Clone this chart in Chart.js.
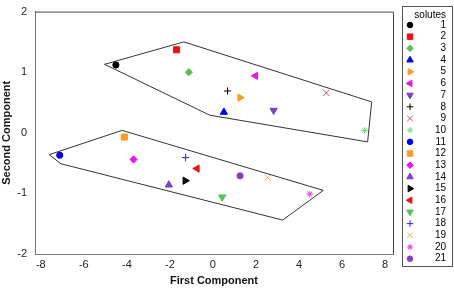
<!DOCTYPE html>
<html>
<head>
<meta charset="utf-8">
<script src="https://cdn.jsdelivr.net/npm/chart.js@4/dist/chart.umd.min.js"></script>
<style>
  html, body { margin: 0; padding: 0; background: #fff; }
  #wrap { width: 454px; height: 288px; }
</style>
</head>
<body>
<div id="wrap"><canvas id="pcaChart" width="454" height="288"></canvas></div>
<script>
// solute scores on the first two components
const solutes = ["1","2","3","4","5","6","7","8","9","10","11","12","13","14","15","16","17","18","19","20","21"];
const firstComp = [-4.51, -1.69, -1.12, 0.51, 1.26, 1.98, 2.82, 0.68, 5.27, 7.05, -7.12, -4.12, -3.69, -2.05, -1.29, -0.74, 0.43, -1.27, 2.54, 4.50, 1.26];
const secondComp = [1.12, 1.37, 1.00, 0.34, 0.58, 0.94, 0.37, 0.69, 0.66, 0.04, -0.37, -0.07, -0.44, -0.86, -0.79, -0.59, -1.06, -0.41, -0.74, -1.01, -0.71];
const markerColors = ["#000000","#ee1111","#55c055","#0000ee","#ff9922","#ee11ee","#8040c0","#000000","#ee4444","#77dd77",
                      "#0000ee","#ff9922","#ee11ee","#8040c0","#000000","#ee1111","#55c055","#2222ee","#ffaa55","#ee33ee","#8040c0"];
const markerStyles = ["circle","rect","rectRot","triangle","triangle","triangle","triangle","cross","crossRot","star",
                      "circle","rect","rectRot","triangle","triangle","triangle","triangle","cross","crossRot","star","circle"];
const markerRotation = [0,0,0,0,90,-90,180,0,0,0, 0,0,0,0,90,-90,180,0,0,0,0];

// group outlines
const upperHullX = [-5.04, -1.35, 7.38, 7.19, -0.14, -5.04];
const upperHullY = [1.13, 1.50, 0.51, -0.15, 0.29, 1.13];
const lowerHullX = [-7.61, -4.22, 5.13, 3.24, -7.07, -7.61];
const lowerHullY = [-0.36, 0.04, -0.95, -1.44, -0.51, -0.36];

const xTicks = [-8, -6, -4, -2, 0, 2, 4, 6, 8];
const yTicks = [-2, -1, 0, 1, 2];

const FONT = "'Liberation Sans', Arial, sans-serif";

function markerRadius(style) {
    if (style === "rect") return 4.3;
    if (style === "triangle") return 4.2;
    if (style === "rectRot") return 3.6;
    if (style === "circle") return 3.1;
    if (style === "crossRot") return 4.4;
    if (style === "star") return 3.3;
    return 3.6;
}

const solutesData = solutes.map((s, i) => ({
    label: s,
    data: [{ x: firstComp[i], y: secondComp[i] }],
    pointStyle: markerStyles[i],
    rotation: markerRotation[i],
    pointRadius: markerRadius(markerStyles[i]),
    pointBackgroundColor: markerColors[i],
    pointBorderColor: markerColors[i],
    pointBorderWidth: 1,
    showLine: false,
}));

const hullData = [[upperHullX, upperHullY], [lowerHullX, lowerHullY]].map(([hx, hy], k) => ({
    label: "hull" + k,
    data: hx.map((v, i) => ({ x: v, y: hy[i] })),
    showLine: true,
    borderColor: "#333333",
    borderWidth: 1,
    pointRadius: 0,
    fill: false,
    tension: 0,
}));

const framePlugin = {
    id: "frame",
    afterDatasetsDraw(chart) {
        const { ctx, chartArea: a } = chart;
        ctx.save();
        ctx.strokeStyle = "#444";
        ctx.lineWidth = 1;
        ctx.beginPath();
        ctx.moveTo(a.left, a.top + 0.5);
        ctx.lineTo(a.right + 0.5, a.top + 0.5);
        ctx.lineTo(a.right + 0.5, a.bottom);
        ctx.stroke();
        ctx.restore();
    },
};

const legendPlugin = {
    id: "soluteLegend",
    afterDraw(chart) {
        const ctx = chart.ctx;
        const left = 402, top = 6, right = 453, bottom = 267;
        ctx.save();
        ctx.fillStyle = "#fff";
        ctx.fillRect(left, top, right - left, bottom - top);
        ctx.strokeStyle = "#555";
        ctx.lineWidth = 1;
        ctx.strokeRect(left + 0.5, top + 0.5, right - left - 1, bottom - top - 1);
        ctx.fillStyle = "#000";
        ctx.font = "10px " + FONT;
        ctx.textAlign = "right";
        ctx.textBaseline = "middle";
        ctx.fillText("solutes", 446, 15);
        const rowH = (258.7 - 25) / 20;
        solutes.forEach((s, i) => {
            const y = 25 + i * rowH;
            ctx.fillStyle = markerColors[i];
            ctx.strokeStyle = markerColors[i];
            ctx.lineWidth = 1;
            Chart.helpers.drawPoint(ctx, {
                pointStyle: markerStyles[i],
                rotation: markerRotation[i],
                radius: markerRadius(markerStyles[i]) * 0.9,
                borderWidth: 1,
            }, 410, y);
            ctx.fillStyle = "#000";
            ctx.fillText(s, 446, y);
        });
        ctx.restore();
    },
};

new Chart(document.getElementById("pcaChart"), {
    type: "scatter",
    data: { datasets: [...hullData, ...solutesData] },
    options: {
        responsive: false,
        animation: false,
        layout: { padding: { top: 6, right: 61, left: 0, bottom: 0 } },
        plugins: { legend: { display: false }, tooltip: { enabled: false } },
        scales: {
            x: {
                type: "linear",
                min: -8.27,
                max: 8.37,
                afterBuildTicks: s => { s.ticks = xTicks.map(v => ({ value: v })); },
                afterFit: s => { s.height = 34; },
                grid: { display: false, drawTicks: true, tickLength: 3, tickColor: "#777" },
                border: { display: true, color: "#777" },
                ticks: { color: "#222", font: { family: FONT, size: 11 }, padding: 1, maxRotation: 0 },
                title: { display: true, text: "First Component", color: "#111", font: { family: FONT, size: 11, weight: "bold" }, padding: { top: 0, bottom: 0 } },
            },
            y: {
                type: "linear",
                min: -2,
                max: 2,
                afterBuildTicks: s => { s.ticks = yTicks.map(v => ({ value: v })); },
                afterFit: s => { s.width = 35; },
                grid: { display: false, drawTicks: true, tickLength: 3, tickColor: "#777" },
                border: { display: true, color: "#777" },
                ticks: { color: "#222", font: { family: FONT, size: 11 }, padding: 5 },
                title: { display: true, text: "Second Component", color: "#111", font: { family: FONT, size: 11, weight: "bold" }, padding: { top: 0, bottom: 0 } },
            },
        },
    },
    plugins: [framePlugin, legendPlugin],
});
</script>
</body>
</html>
